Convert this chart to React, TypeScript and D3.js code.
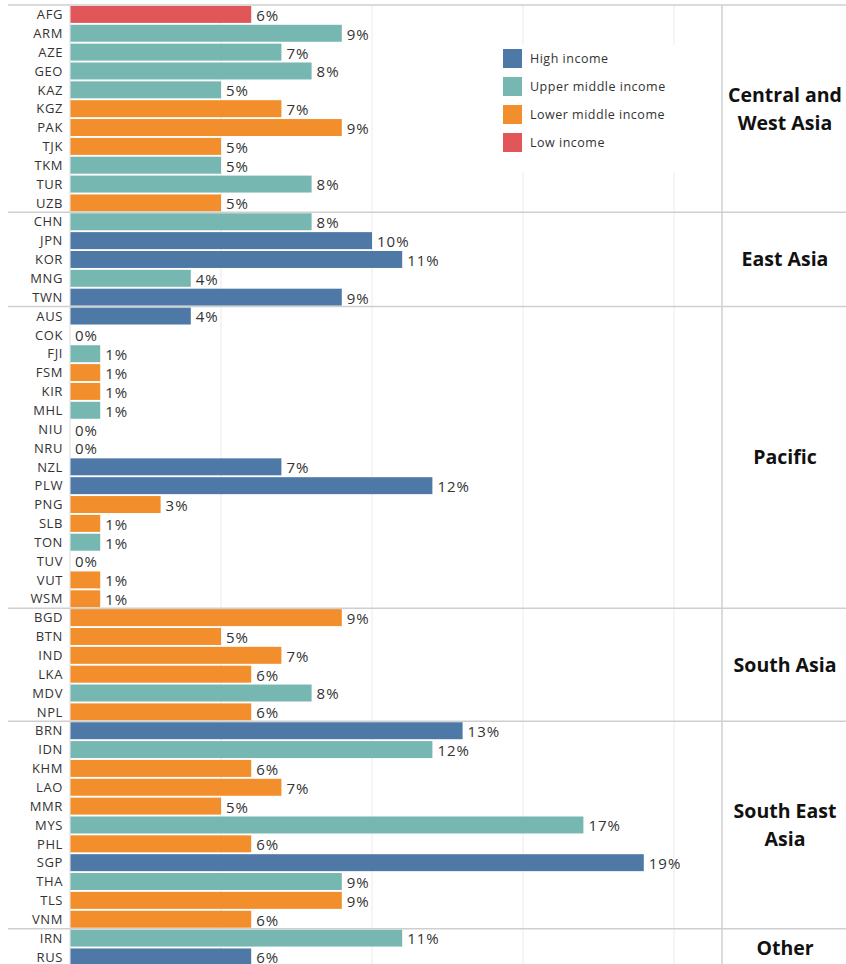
import React, { useEffect, useRef } from 'react'
import * as d3 from 'd3'

// country codes in display order, grouped by region
const countryCodes = [
  'AFG', 'ARM', 'AZE', 'GEO', 'KAZ', 'KGZ', 'PAK', 'TJK', 'TKM', 'TUR', 'UZB',
  'CHN', 'JPN', 'KOR', 'MNG', 'TWN',
  'AUS', 'COK', 'FJI', 'FSM', 'KIR', 'MHL', 'NIU', 'NRU', 'NZL', 'PLW', 'PNG', 'SLB', 'TON', 'TUV', 'VUT', 'WSM',
  'BGD', 'BTN', 'IND', 'LKA', 'MDV', 'NPL',
  'BRN', 'IDN', 'KHM', 'LAO', 'MMR', 'MYS', 'PHL', 'SGP', 'THA', 'TLS', 'VNM',
  'IRN', 'RUS'
]

const shareValues = [
  6, 9, 7, 8, 5, 7, 9, 5, 5, 8, 5,
  8, 10, 11, 4, 9,
  4, 0, 1, 1, 1, 1, 0, 0, 7, 12, 3, 1, 1, 0, 1, 1,
  9, 5, 7, 6, 8, 6,
  13, 12, 6, 7, 5, 17, 6, 19, 9, 9, 6,
  11, 6
]

// H = high, U = upper middle, L = lower middle, W = low
const incomeLevels = [
  'W', 'U', 'U', 'U', 'U', 'L', 'L', 'L', 'U', 'U', 'L',
  'U', 'H', 'H', 'U', 'H',
  'H', 'U', 'U', 'L', 'L', 'U', 'U', 'U', 'H', 'H', 'L', 'L', 'U', 'U', 'L', 'L',
  'L', 'L', 'L', 'L', 'U', 'L',
  'H', 'U', 'L', 'L', 'L', 'U', 'L', 'H', 'U', 'L', 'L',
  'U', 'H'
]

const regionNames = [['Central and', 'West Asia'], ['East Asia'], ['Pacific'], ['South Asia'], ['South East', 'Asia'], ['Other']]
const regionCounts = [11, 5, 16, 6, 11, 2]

const legendKeys = ['H', 'U', 'L', 'W']
const legendLabels = ['High income', 'Upper middle income', 'Lower middle income', 'Low income']
const legendColors = ['#4e79a7', '#76b7b2', '#f28e2b', '#e15759']

const xTicks = [5, 10, 15, 20]

const W = 846
const H = 964
const FONT = '"Open Sans", "DejaVu Sans", sans-serif'

export default function App() {
  const ref = useRef<SVGSVGElement>(null)

  useEffect(() => {
    const svg = d3.select(ref.current)
    svg.selectAll('*').remove()

    const top = 5
    const step = 18.85
    const x = d3.scaleLinear().domain([0, 20]).range([70, 674])
    const y = d3.scaleBand().domain(countryCodes).range([top, top + countryCodes.length * step])
      .paddingInner(0.1).paddingOuter(0.05)
    const color = d3.scaleOrdinal<string, string>().domain(legendKeys).range(legendColors)

    const rows = countryCodes.map((code, i) => ({ code, value: shareValues[i], level: incomeLevels[i] }))

    // grid
    svg.append('g')
      .selectAll('line')
      .data(xTicks)
      .enter()
      .append('line')
        .attr('x1', d => x(d)).attr('x2', d => x(d))
        .attr('y1', top).attr('y2', H)
        .attr('stroke', '#ebebeb')
        .attr('stroke-width', 1)

    // zero axis
    svg.append('line')
      .attr('x1', x(0)).attr('x2', x(0))
      .attr('y1', top).attr('y2', H)
      .attr('stroke', '#dcdcdc')

    // bars
    svg.append('g')
      .selectAll('rect')
      .data(rows.filter(d => d.value > 0))
      .enter()
      .append('rect')
        .attr('x', x(0) + 0.5)
        .attr('y', d => y(d.code)!)
        .attr('width', d => x(d.value) - x(0) - 0.5)
        .attr('height', y.bandwidth())
        .attr('fill', d => color(d.level))

    // country labels
    svg.append('g')
      .selectAll('text')
      .data(rows)
      .enter()
      .append('text')
        .attr('x', 63)
        .attr('y', d => y(d.code)! + y.bandwidth() / 2)
        .attr('dy', '0.36em')
        .attr('text-anchor', 'end')
        .attr('font-family', FONT)
        .attr('font-size', 13)
        .attr('letter-spacing', 0.6)
        .attr('fill', '#333')
        .text(d => d.code)

    // value labels
    svg.append('g')
      .selectAll('text')
      .data(rows)
      .enter()
      .append('text')
        .attr('x', d => x(d.value) + 5)
        .attr('y', d => y(d.code)! + y.bandwidth() / 2 + 1)
        .attr('dy', '0.36em')
        .attr('font-family', FONT)
        .attr('font-size', 15)
        .attr('letter-spacing', 1)
        .attr('fill', '#333')
        .text(d => d.value + '%')

    // region separators + titles
    let start = 0
    const bounds = regionCounts.map(n => {
      const b = [start, start + n]
      start += n
      return b
    })

    svg.append('g')
      .selectAll('line')
      .data(bounds)
      .enter()
      .append('line')
        .attr('x1', 8).attr('x2', W)
        .attr('y1', d => top + d[0] * step).attr('y2', d => top + d[0] * step)
        .attr('stroke', '#cfcfcf')
        .attr('stroke-width', 1.5)

    svg.append('line')
      .attr('x1', 722).attr('x2', 722)
      .attr('y1', top).attr('y2', H)
      .attr('stroke', '#cfcfcf')
      .attr('stroke-width', 1.5)

    const titles = svg.append('g')
      .selectAll('text')
      .data(bounds)
      .enter()
      .append('text')
        .attr('x', 785)
        .attr('y', d => top + (d[0] + d[1]) / 2 * step)
        .attr('text-anchor', 'middle')
        .attr('font-family', FONT)
        .attr('font-weight', 'bold')
        .attr('font-size', 19.5)
        .attr('fill', '#111')

    titles.each(function (d, i) {
      const lines = regionNames[i]
      const t = d3.select(this)
      lines.forEach((line, j) => {
        t.append('tspan')
          .attr('x', 785)
          .attr('dy', j === 0 ? (0.36 - (lines.length - 1) * 0.72) + 'em' : '1.44em')
          .text(line)
      })
    })

    // legend
    const legend = svg.append('g')
    legend.append('rect')
      .attr('x', 486).attr('y', 45)
      .attr('width', 214).attr('height', 127)
      .attr('fill', '#fff')

    const items = legend.selectAll('g.item')
      .data(legendKeys)
      .enter()
      .append('g')
        .attr('class', 'item')
        .attr('transform', (d, i) => `translate(503, ${49 + i * 28})`)

    items.append('rect')
      .attr('width', 19).attr('height', 19)
      .attr('fill', d => color(d))

    items.append('text')
      .attr('x', 27).attr('y', 9.5)
      .attr('dy', '0.36em')
      .attr('font-family', FONT)
      .attr('font-size', 12.5)
      .attr('letter-spacing', 0.5)
      .attr('fill', '#333')
      .text((d, i) => legendLabels[i])
  }, [])

  return (
    <svg ref={ref} width={W} height={H}
      style={{ position: 'absolute', left: 0, top: 0, background: '#fff' }} />
  )
}
